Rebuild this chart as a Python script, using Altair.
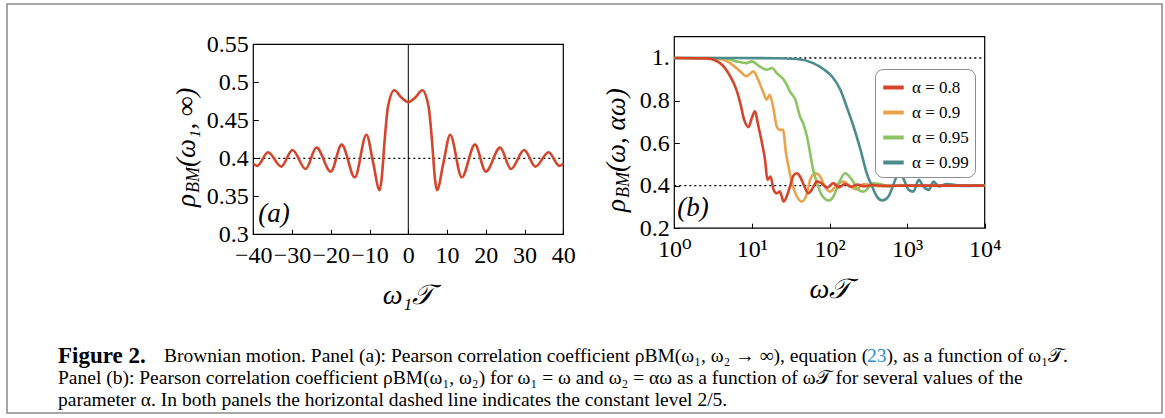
import altair as alt
import pandas as pd

# ---------------- data: panel (a) ----------------
a_omega = [-40, -39.0, -36.2, -32.8, -29.9, -26.5, -23.7, -20.0, -17.2, -13.8, -10.8, -9.1,
           -7.4, -6.9, -6.1, -5.25, -3.6, -1.8, 0.0, 1.8, 3.6, 5.25, 6.1, 6.9, 7.4,
           9.1, 10.8, 13.8, 17.2, 20.0, 23.7, 26.5, 29.9, 32.8, 36.2, 39.0, 40]
a_rho = [0.393, 0.390, 0.408, 0.389, 0.411, 0.386, 0.414, 0.3825, 0.418, 0.375, 0.431, 0.395,
         0.358, 0.372, 0.424, 0.4675, 0.4895, 0.480, 0.474, 0.480, 0.4895, 0.4675, 0.424, 0.372, 0.358,
         0.395, 0.431, 0.375, 0.418, 0.3825, 0.414, 0.386, 0.411, 0.389, 0.408, 0.390, 0.393]

# ---------------- data: panel (b) ----------------
series_names = ["α = 0.8", "α = 0.9", "α = 0.95", "α = 0.99"]
series_colors = ["#d5452c", "#eaa24c", "#8cc463", "#4d8c8c"]

b08_w = [1, 2.6, 3.89, 5.25, 6.31, 7.08, 7.94, 9.02, 9.95, 10.96, 12.02, 13.49, 14.79, 15.85, 17.38,
         19.05, 20.89, 22.91, 25.70, 28.18, 30.90, 34.67, 38.02, 41.69, 45.71, 53.70, 58.88, 69.18,
         79.43, 93.33, 112, 132, 158, 190, 229, 282, 355, 500, 1000, 10000]
b08_r = [1.0, 0.998, 0.976, 0.914, 0.851, 0.788, 0.71, 0.675, 0.717, 0.749, 0.686, 0.60, 0.52, 0.427, 0.443,
         0.38, 0.364, 0.372, 0.325, 0.35, 0.395, 0.45, 0.458, 0.443, 0.41, 0.364, 0.38, 0.42,
         0.41, 0.39, 0.412, 0.392, 0.408, 0.395, 0.405, 0.397, 0.403, 0.399, 0.4, 0.4]

b09_w = [1, 3.5, 5.25, 7.08, 8.51, 10.47, 12.02, 14.13, 15.49, 16.98, 19.05, 20.89, 22.91, 25.12, 27.54,
         30.20, 33.88, 38.02, 43.65, 51.29, 56.23, 66.07, 75.86, 87.10, 102.3, 123.0, 151.4, 186.2,
         223.9, 275, 331, 450, 700, 1500, 10000]
b09_r = [1.0, 0.998, 0.976, 0.937, 0.914, 0.937, 0.898, 0.835, 0.804, 0.827, 0.757, 0.678, 0.662, 0.662, 0.553,
         0.474, 0.396, 0.349, 0.325, 0.364, 0.427, 0.458, 0.443, 0.396, 0.372, 0.403, 0.419, 0.396,
         0.383, 0.408, 0.404, 0.397, 0.401, 0.4, 0.4]

b095_w = [1, 4.5, 6.31, 8.51, 10.0, 12.59, 15.49, 18.20, 20.89, 25.70, 28.18, 30.90, 36.31, 41.69, 45.71,
          51.29, 56.23, 61.66, 69.18, 79.43, 97.72, 112.2, 131.8, 158.5, 195.0, 234.4, 275.4, 371.5,
          446.7, 600, 800, 1200, 2000, 10000]
b095_r = [1.0, 0.999, 0.984, 0.976, 0.984, 0.96, 0.945, 0.953, 0.929, 0.898, 0.874, 0.843, 0.804, 0.725, 0.694,
          0.631, 0.553, 0.474, 0.411, 0.356, 0.330, 0.349, 0.411, 0.458, 0.427, 0.380, 0.372, 0.411,
          0.408, 0.396, 0.403, 0.399, 0.4, 0.4]

b099_w = [1, 20, 38.02, 61.66, 83.18, 107.2, 138.0, 166.0, 204.2, 251.2, 302.0, 354.8, 407.4, 478.6, 575.4,
          676.1, 776.2, 891.3, 1047, 1202, 1413, 1622, 1905, 2188, 2570, 3236, 5000, 10000]
b099_r = [1.0, 0.999, 0.995, 0.976, 0.948, 0.914, 0.851, 0.772, 0.678, 0.568, 0.458, 0.396, 0.349, 0.330, 0.349,
          0.411, 0.458, 0.435, 0.38, 0.372, 0.427, 0.396, 0.38, 0.419, 0.396, 0.408, 0.399, 0.4]

a_yticks = [0.3, 0.35, 0.4, 0.45, 0.5, 0.55]
a_xticks = [-40, -30, -20, -10, 0, 10, 20, 30, 40]
b_yticks = [0.2, 0.4, 0.6, 0.8, 1.0]
b_xticks = [1, 10, 100, 1000, 10000]

caption_l1a = "Brownian motion. Panel (a): Pearson correlation coefficient ρBM(ω₁, ω₂ → ∞), equation ("
caption_ref = "23"
caption_l1b = "), as a function of ω₁𝒯."
caption_l2 = "Panel (b): Pearson correlation coefficient ρBM(ω₁, ω₂) for ω₁ = ω and ω₂ = αω as a function of ω𝒯 for several values of the"
caption_l3 = "parameter α. In both panels the horizontal dashed line indicates the constant level 2/5."

# ---------------- layout constants ----------------
SERIF = "Liberation Serif, DejaVu Serif, serif"
W, H = 1155, 409
OX, OY = 7, 4
AXR = [253.3 - OX, 563.3 - OX]
AYR = [234.3 - OY, 44.3 - OY]
BXR = [674.3 - OX, 984.7 - OX]
BYR = [228.2 - OY, 36.7 - OY]
CAP = 19.5

dfa = pd.DataFrame({"w": a_omega, "r": a_rho})
frames = []
for name, ws, rs in zip(series_names, [b08_w, b09_w, b095_w, b099_w], [b08_r, b09_r, b095_r, b099_r]):
    frames.append(pd.DataFrame({"w": ws, "r": rs, "s": name}))
dfb = pd.concat(frames, ignore_index=True)
DUMMY = pd.DataFrame({"d": [0]})

xa = alt.Scale(domain=[-40, 40], range=AXR, nice=False, zero=False)
ya = alt.Scale(domain=[0.3, 0.55], range=AYR, nice=False, zero=False)
xb = alt.Scale(type="log", domain=[1, 10000], range=BXR, nice=False)
yb = alt.Scale(domain=[0.2, 1.1], range=BYR, nice=False, zero=False)

lab = dict(labelFont=SERIF, labelFontSize=24, labelColor="black", grid=False, domain=False, ticks=False, title=None,
           labelOverlap=False, labelFlush=False, labelBound=False)
tck = dict(labels=False, grid=False, domain=False, ticks=True, tickSize=5, tickColor="black", tickWidth=1, title=None)

# ---------------- panel (a) ----------------
a_line = alt.Chart(dfa).mark_line(color="#d5452c", strokeWidth=2.6, interpolate="monotone").encode(
    x=alt.X("w:Q", scale=xa, axis=alt.Axis(orient="bottom", offset=AYR[0] - H, values=a_xticks, labelPadding=9, **lab)),
    y=alt.Y("r:Q", scale=ya, axis=alt.Axis(orient="left", offset=-AXR[0], values=a_yticks, labelPadding=5,
                                           labelExpr="format(datum.value, '~g')", **lab)),
)
a_ref = alt.Chart(pd.DataFrame({"w": [-40], "w2": [40], "r": [0.4]})).mark_rule(
    color="black", strokeDash=[2, 3], strokeWidth=1.3).encode(x="w:Q", x2="w2", y="r:Q")
a_zero = alt.Chart(pd.DataFrame({"w": [0], "r": [0.3], "r2": [0.55]})).mark_rule(
    color="black", strokeWidth=1).encode(x="w:Q", y="r:Q", y2="r2")
a_frame = alt.Chart(pd.DataFrame({"w": [-40], "w2": [40], "r": [0.3], "r2": [0.55]})).mark_rect(
    fillOpacity=0, stroke="black", strokeWidth=1.2).encode(x="w:Q", x2="w2", y="r:Q", y2="r2")
a_tag = alt.Chart(pd.DataFrame({"w": [-40], "r": [0.3], "t": ["(a)"]})).mark_text(
    font=SERIF, fontSize=27, fontStyle="italic", align="left", baseline="bottom", dx=5, dy=-6, color="black"
).encode(x="w:Q", y="r:Q", text="t:N")
panel_a = alt.layer(a_frame, a_ref, a_zero, a_line, a_tag)

a_ticks = alt.Chart(pd.DataFrame({"w": [0], "r": [0.4]})).mark_point(opacity=0).encode(
    x=alt.X("w:Q", scale=xa, axis=alt.Axis(orient="top", offset=-AYR[0], values=a_xticks, **tck)),
    y=alt.Y("r:Q", scale=ya, axis=alt.Axis(orient="right", offset=AXR[0] - W, values=a_yticks, **tck)),
)

# ---------------- panel (b) ----------------
color_scale = alt.Scale(domain=series_names, range=series_colors)
legend = alt.Legend(orient="none", legendX=868, legendY=65, title=None, strokeColor="#8c8c8c", cornerRadius=8,
                    padding=6, fillColor="white", symbolType="stroke", symbolSize=420, symbolStrokeWidth=4,
                    labelFont=SERIF, labelFontSize=17, labelColor="black", rowPadding=4, labelOffset=6)
b_layers = []
for name in ["α = 0.9", "α = 0.95", "α = 0.99", "α = 0.8"]:
    b_layers.append(
        alt.Chart(dfb).transform_filter(alt.datum.s == name).mark_line(strokeWidth=2.6, interpolate="monotone").encode(
            x=alt.X("w:Q", scale=xb, axis=alt.Axis(orient="bottom", offset=BYR[0] - H, values=b_xticks, labelPadding=9,
                                                   labelExpr="'10' + ['⁰','¹','²','³','⁴'][round(log(datum.value)/LN10)]", **lab)),
            y=alt.Y("r:Q", scale=yb, axis=alt.Axis(orient="left", offset=-BXR[0], values=b_yticks, labelPadding=5,
                                                   labelExpr="datum.value == 1 ? '1.' : format(datum.value, '.1f')", **lab)),
            color=alt.Color("s:N", scale=color_scale, legend=legend),
        )
    )
b_refs = alt.Chart(pd.DataFrame({"w": [1, 1], "w2": [10000, 10000], "r": [1.0, 0.4]})).mark_rule(
    color="black", strokeDash=[2, 3], strokeWidth=1.3).encode(x="w:Q", x2="w2", y="r:Q")
b_frame = alt.Chart(pd.DataFrame({"w": [1], "w2": [10000], "r": [0.2], "r2": [1.1]})).mark_rect(
    fillOpacity=0, stroke="black", strokeWidth=1.2).encode(x="w:Q", x2="w2", y="r:Q", y2="r2")
b_tag = alt.Chart(pd.DataFrame({"w": [1], "r": [0.2], "t": ["(b)"]})).mark_text(
    font=SERIF, fontSize=27, fontStyle="italic", align="left", baseline="bottom", dx=3, dy=-6, color="black"
).encode(x="w:Q", y="r:Q", text="t:N")
panel_b = alt.layer(b_frame, b_refs, *b_layers, b_tag)

b_ticks = alt.Chart(pd.DataFrame({"w": [10], "r": [0.4]})).mark_point(opacity=0).encode(
    x=alt.X("w:Q", scale=xb, axis=alt.Axis(orient="top", offset=-BYR[0], values=b_xticks, **tck)),
    y=alt.Y("r:Q", scale=yb, axis=alt.Axis(orient="right", offset=BXR[0] - W, values=b_yticks, **tck)),
)


# ---------------- text pieces ----------------
def txt(t, x, y, size, align="left", angle=0, style="normal", weight="normal", color="black"):
    return alt.Chart(DUMMY).mark_text(text=t, font=SERIF, fontSize=size, align=align, baseline="middle",
                                      angle=angle, fontStyle=style, fontWeight=weight, color=color).encode(
        x=alt.value(x), y=alt.value(y))


l1a_x = 164
l1a_w = 703
texts = [
    txt("ω₁𝒯", 408 - OX, 296 - OY, 28, align="center", style="italic"),
    txt("ω𝒯", 830 - OX, 290 - OY, 28, align="center", style="italic"),
    txt("ρ", 187 - OX, 207 - OY, 27, angle=270, style="italic"),
    txt("BM", 194 - OX, 193 - OY, 18, angle=270, style="italic"),
    txt("(ω₁, ∞)", 187 - OX, 167 - OY, 27, angle=270, style="italic"),
    txt("ρ", 617 - OX, 212 - OY, 27, angle=270, style="italic"),
    txt("BM", 624 - OX, 198 - OY, 18, angle=270, style="italic"),
    txt("(ω, αω)", 617 - OX, 172 - OY, 27, angle=270, style="italic"),
    txt("Figure 2.", 58 - OX, 356 - OY, 23, weight="bold"),
    txt(caption_l1a, l1a_x - OX, 356 - OY, CAP),
    txt(caption_ref, l1a_x + l1a_w - OX, 356 - OY, CAP, color="#2a8fd0"),
    txt(caption_l1b, l1a_x + l1a_w + 19.5 - OX, 356 - OY, CAP),
    txt(caption_l2, 58 - OX, 378 - OY, CAP),
    txt(caption_l3, 58 - OX, 400 - OY, CAP),
]

chart = alt.layer(panel_a, a_ticks, panel_b, b_ticks, *texts).resolve_scale(
    x="independent", y="independent"
).properties(
    width=W, height=H, padding={"left": OX, "top": OY, "right": 1165 - W - OX, "bottom": 418 - H - OY},
    autosize=alt.AutoSizeParams(type="none"), background="white"
).configure_view(stroke="#8a8a8a", strokeWidth=1.5)

chart.save("out.html", embed_options={"renderer": "svg", "actions": False})
